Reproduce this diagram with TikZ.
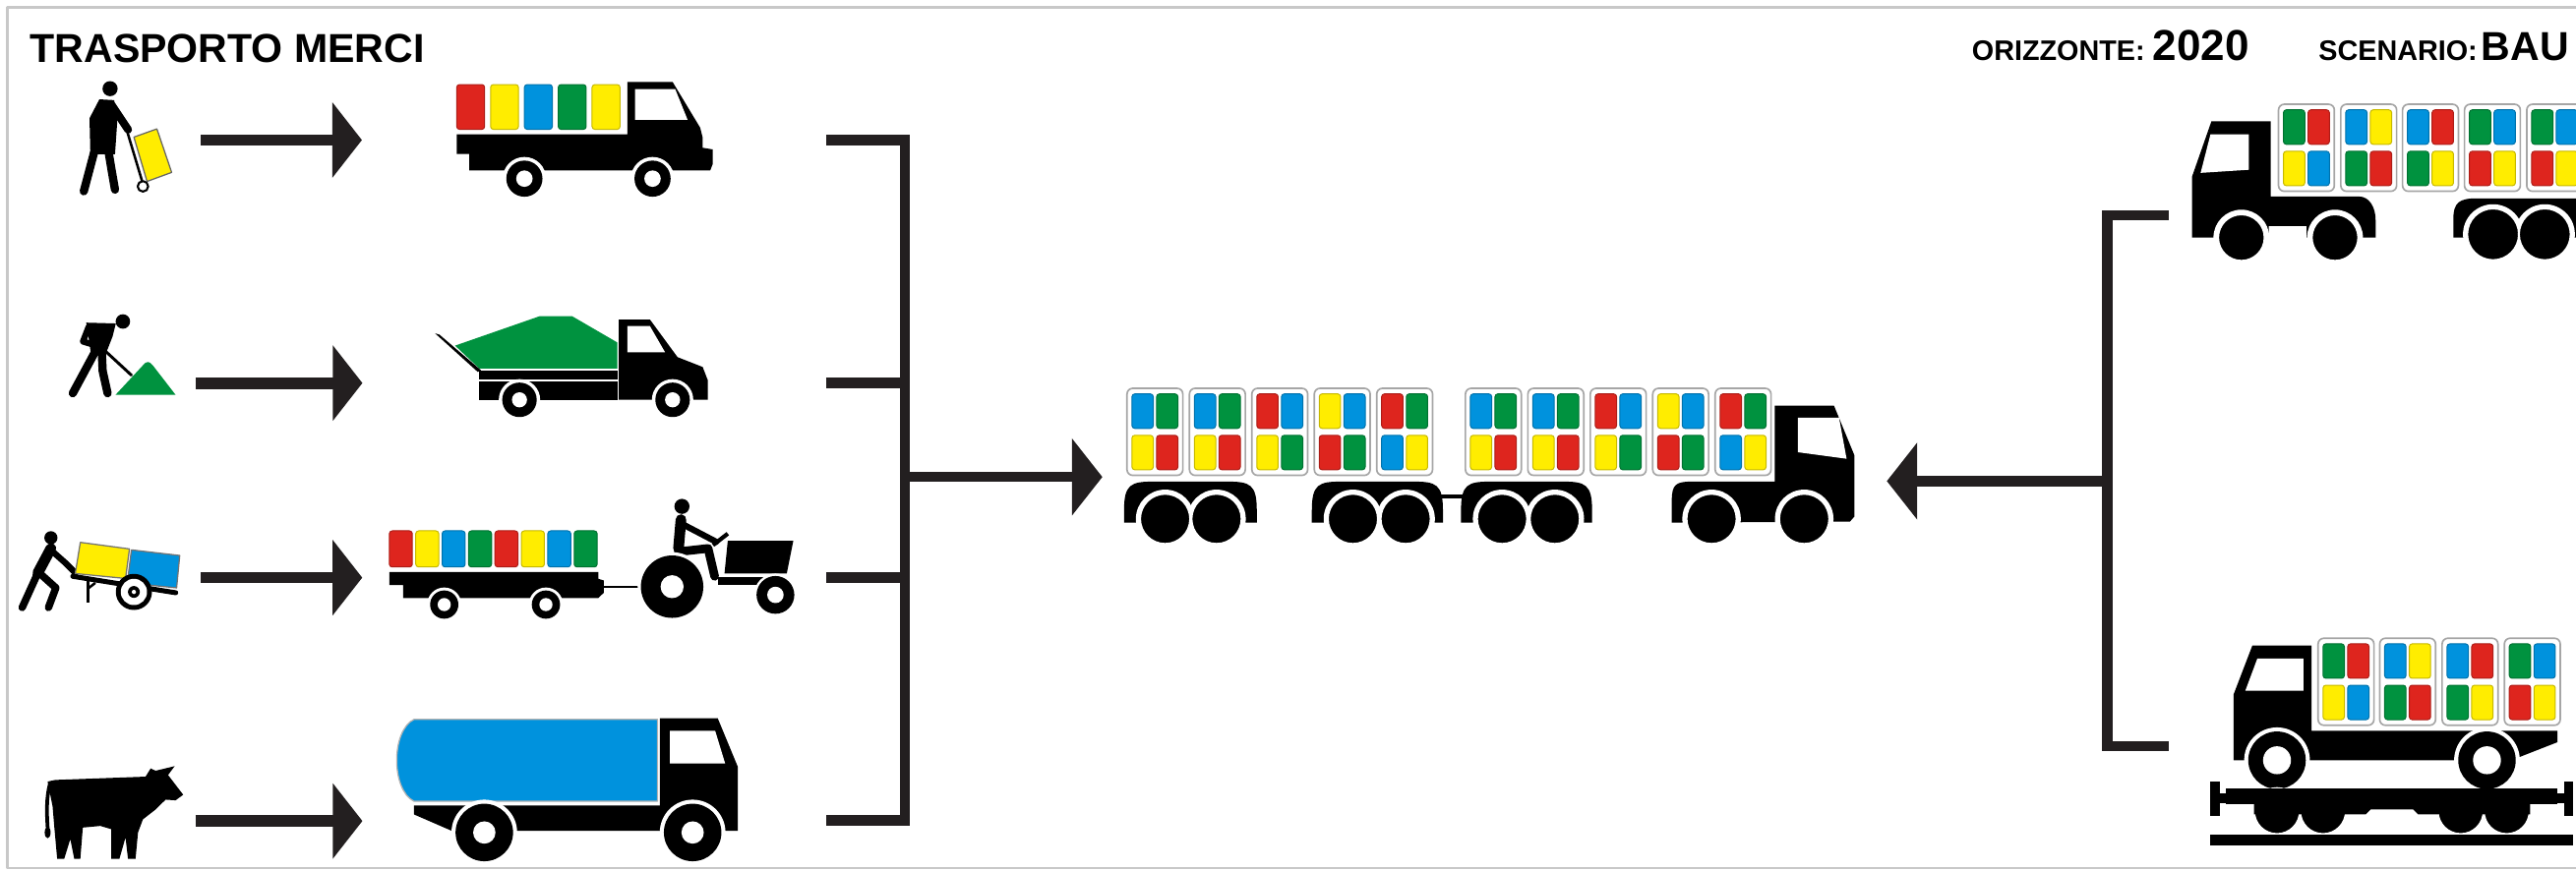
\documentclass[tikz,border=0pt]{standalone}
\usepackage{fontspec}
\setmainfont{Liberation Sans}
\usetikzlibrary{arrows.meta}
\definecolor{tred}{RGB}{222,37,30}
\definecolor{tyel}{RGB}{255,237,0}
\definecolor{tblu}{RGB}{0,146,221}
\definecolor{tgrn}{RGB}{0,146,63}
\definecolor{ink}{RGB}{35,31,32}
\definecolor{frame}{RGB}{200,200,200}

% one coloured load unit: x y width height colour
\newcommand{\ctile}[5]{%
  \filldraw[fill=#5, draw=#5!78!black, line width=0.12mm, rounded corners=0.35mm]
    (#1,#2) rectangle ++(#3,#4);}
% a container of four load units: x y  top-left top-right bottom-left bottom-right
\newcommand{\cgrp}[6]{%
  \filldraw[fill=white, draw=black!35, line width=0.2mm, rounded corners=0.7mm]
    (#1,#2) rectangle ++(34,53);
  \ctile{#1+3}{#2+3.4}{13}{21}{#3}
  \ctile{#1+18}{#2+3.4}{13}{21}{#4}
  \ctile{#1+3}{#2+28.6}{13}{21}{#5}
  \ctile{#1+18}{#2+28.6}{13}{21}{#6}}
% white gap cut around a wheel
\newcommand{\carve}[3]{\fill[white] (#1,#2) circle[radius=#3];}
% wheel with hub: x y outer inner
\newcommand{\whl}[4]{%
  \fill[black] (#1,#2) circle[radius=#3];
  \fill[white] (#1,#2) circle[radius=#4];}
% solid tyre with a thin white rim
\newcommand{\tyre}[3]{\filldraw[fill=black, draw=white, line width=0.25mm] (#1,#2) circle[radius=#3];}

\tikzset{
  rowarrow/.style={draw=ink, line width=1.4mm, -{Triangle[length=3.6mm,width=9mm]}},
  busarrow/.style={draw=ink, line width=1.25mm, -{Triangle[length=3.7mm,width=9.2mm]}},
  bus/.style={draw=ink, line width=1.25mm, line join=miter, line cap=butt},
  limb/.style={draw=black, line cap=round, line join=round},
  titletext/.style={font=\bfseries\fontsize{14}{16}\selectfont, inner sep=0pt, anchor=base west},
  headtext/.style={font=\bfseries\fontsize{9.8}{11}\selectfont, inner sep=0pt, anchor=base west},
}

\begin{document}
\begin{tikzpicture}[x=0.2mm, y=-0.2mm, line join=round]
\path[use as bounding box] (0,0) rectangle (1568,530.4);
\clip (0,0) rectangle (1568,530.4);
\fill[white] (0,0) rectangle (1568,530.4);
\draw[frame, line width=0.25mm] (1568,4.5) -- (4.5,4.5) -- (4.5,528.5) -- (1568,528.5);

% ---------- headings ----------
\node[titletext] (title) at (18,38) {TRASPORTO MERCI};
\node[headtext] (horizon) at (1200,37) {ORIZZONTE: {\fontsize{15}{17}\selectfont 2020}};
\node[headtext] (scenario) at (1411,37) {SCENARIO:\hspace{0.5mm}{\fontsize{14}{16}\selectfont BAU}};

% ---------- row 1: porter with hand truck ----------
\fill[black] (67,54) circle[radius=4.6];
\fill[black] (60.5,60.5) -- (69.5,61) -- (71.5,72) -- (70,94) -- (55,94) -- (54.5,72) -- cycle;
\draw[limb, line width=0.95mm] (68,64) -- (78,79);
\draw[limb, line width=1mm] (57.5,92) -- (51,116.5);
\draw[limb, line width=1mm] (66,92) -- (68,104) -- (70,115.5);
\draw[black, line width=0.3mm, line cap=round] (76.5,77) -- (87,112);
\filldraw[fill=tyel, draw=black!60, line width=0.15mm] (81.5,83.5) -- (95.5,78.5) -- (104.5,105) -- (89.5,110.5) -- cycle;
\filldraw[fill=white, draw=black, line width=0.25mm] (87,113.5) circle[radius=3.2];

% row 1: light lorry
\ctile{278}{51.5}{17}{27.3}{tred}
\ctile{298.6}{51.5}{17}{27.3}{tyel}
\ctile{319.2}{51.5}{17}{27.3}{tblu}
\ctile{339.8}{51.5}{17}{27.3}{tgrn}
\ctile{360.4}{51.5}{17}{27.3}{tyel}
\fill[black] (278,81.8) -- (381.9,81.8) -- (381.9,49.9) -- (409.4,49.9) -- (426.2,77.8) -- (427.7,83.8)
  -- (427.7,90) -- (433.8,91) -- (433.8,100) -- (432.3,103.8) -- (285.6,103.8) -- (285.6,93.8) -- (278,93.8) -- cycle;
\fill[white] (386.5,54.3) -- (411,54.3) -- (418.5,72.9) -- (386.5,72.9) -- cycle;
\carve{319.2}{108.8}{13.2}\carve{397.2}{108.8}{13.2}
\whl{319.2}{108.8}{11}{5}\whl{397.2}{108.8}{11}{5}

% ---------- row 2: digger and tipper ----------
\fill[black] (74.8,195.8) circle[radius=4.4];
\fill[black] (52.5,196.5) -- (70.5,197) -- (68.5,205) -- (64,216.5) -- (55.5,216.5) -- (54,206) -- cycle;
\draw[limb, line width=0.75mm] (54,199) -- (50.5,208) -- (55.5,209.5);
\draw[limb, line width=0.75mm] (66.5,202) -- (63,212);
\draw[limb, line width=0.35mm] (60,210) -- (80,228.5);
\draw[limb, line width=1mm] (57.5,215) -- (44.3,239.5);
\draw[limb, line width=1mm] (62,215) -- (62.5,226) -- (65.5,239.5);
\fill[tgrn] (70.3,240.5) -- (87,222.5) .. controls (89,219.8) and (91,219.8) .. (93,222.5) -- (106.9,240.5) -- cycle;

\fill[tgrn] (277,210.5) -- (328.4,192.6) -- (348.3,192.6) -- (375.8,208.6) -- (375.8,224.5) -- (291.8,224.5) -- cycle;
\fill[black] (264.8,203) -- (267.5,203.8) -- (292.8,225.5) -- (290.8,226.5) -- cycle;
\fill[black] (291.8,225.5) rectangle (375.8,231.3);
\fill[black] (291.8,232.3) rectangle (375.8,243.5);
\fill[black] (376.6,194.6) -- (395.6,194.6) -- (412.4,217.5) -- (427.7,223.5) -- (430.8,231.5) -- (430.8,243.5) -- (376.6,243.5) -- cycle;
\fill[white] (381.9,198.6) -- (395.6,198.6) -- (404.8,214.5) -- (381.9,214.5) -- cycle;
\carve{316.2}{243.5}{12.6}\carve{409.4}{243.5}{12.6}
\whl{316.2}{243.5}{10.5}{4.6}\whl{409.4}{243.5}{10.5}{4.6}

% ---------- row 3: hand cart, trailer and tractor ----------
\fill[black] (31,327.5) circle[radius=4];
\draw[limb, line width=1.3mm] (31,334) -- (23,349);
\draw[limb, line width=0.75mm] (31,335) -- (40,343) -- (46,349);
\draw[limb, line width=0.9mm] (23,349) -- (13.5,370);
\draw[limb, line width=0.9mm] (24,349) -- (34,358) -- (29.5,370);
\filldraw[fill=tyel, draw=black!55, line width=0.15mm] (48.9,330.3) -- (78.8,334.3) -- (76.4,352.3) -- (45.8,349.3) -- cycle;
\filldraw[fill=tblu, draw=black!55, line width=0.15mm] (80,334.9) -- (109.4,338.3) -- (107.5,358) -- (77.5,355) -- cycle;
\draw[black, line width=0.6mm, line cap=round] (44.3,351) -- (107,361);
\draw[black, line width=0.4mm] (53.5,353) -- (53.5,367);
\draw[black, line width=0.3mm] (53.5,358.5) -- (58,355);
\fill[black] (81.5,360.5) circle[radius=11];
\fill[white] (81.5,360.5) circle[radius=8];
\fill[black] (81.5,360.5) circle[radius=3.6];
\fill[white] (81.5,360.5) circle[radius=1.3];

\foreach \c [count=\i from 0] in {tred,tyel,tblu,tgrn,tred,tyel,tblu,tgrn}
  {\ctile{237+\i*16.07}{323.3}{14}{22}{\c}}
\draw[black, line width=0.25mm] (366,357.7) -- (400,357.7);
\fill[black] (237,348.3) -- (364.2,348.3) -- (364.2,352.5) -- (367.5,353.5) -- (367.5,361) -- (364.2,364.2)
  -- (245.4,364.2) -- (245.4,356.3) -- (237,356.3) -- cycle;
\carve{270.4}{368.2}{10.4}\carve{332.3}{368.2}{10.4}
\whl{270.4}{368.2}{8.6}{4}\whl{332.3}{368.2}{8.6}{4}

\fill[black] (415.1,308.4) circle[radius=4.6];
\draw[limb, line width=1.3mm] (414.5,316.5) -- (413,334);
\draw[limb, line width=0.75mm] (415,319) -- (436,330);
\draw[limb, line width=1.05mm] (413,336) -- (431,334) -- (435,351);
\draw[black, line width=0.5mm] (434,332) -- (443,325);
\fill[black] (443,329.3) -- (482.9,329.3) -- (478.9,349.3) -- (441,349.3) -- cycle;
\fill[black] (437,351.3) rectangle (478,356.3);
\carve{409.1}{357.3}{21}\carve{472}{362.3}{13}
\whl{409.1}{357.3}{19}{7}\whl{472}{362.3}{11.5}{5}

% ---------- row 4: cow and milk tanker ----------
\fill[black] (29,476) -- (33.6,475) -- (88.6,473) -- (91.7,468) -- (94.7,469.4) -- (106.3,466.6) -- (102.3,472)
  -- (111.5,484) -- (106.9,487.4) -- (100.8,487) -- (94.7,493) -- (87,499) -- (84,507) -- (82.5,523) -- (77.9,523)
  -- (76.4,510) -- (72.7,523) -- (67.8,523) -- (67.8,505) -- (61.1,503) -- (50.4,504) -- (48.9,523) -- (45.2,523)
  -- (42.8,511) -- (39.1,523) -- (34.8,523) -- (33,503) -- (32,491) -- cycle;
\draw[black, line width=0.45mm, line cap=round] (30.5,477) .. controls (28,486) and (28.5,496) .. (29,504);
\fill[black] (29,507) ellipse[x radius=1.8, y radius=3.5];

\filldraw[fill=tblu, draw=black!30, line width=0.15mm] (252,438.1) -- (400.2,438.1) -- (400.2,488) -- (252,488)
  .. controls (238,481) and (238,445) .. (252,438.1) -- cycle;
\fill[black] (252,490.5) -- (401.7,490.5) -- (401.7,506) -- (275,506) -- (252,496) -- cycle;
\fill[black] (401.7,437.5) -- (436.9,437.5) -- (449.1,467) -- (449.1,506) -- (401.7,506) -- cycle;
\fill[white] (407.8,445) -- (435.3,445) -- (441.4,465) -- (407.8,465) -- cycle;
\carve{294.8}{507}{20}\carve{421.6}{507}{20}
\whl{294.8}{507}{17.5}{6.8}\whl{421.6}{507}{17.5}{6.8}

% ---------- row arrows ----------
\coordinate (a1s) at (122.2,85.3);  \coordinate (a1e) at (220.3,85.3);
\coordinate (a2s) at (119.1,233.3); \coordinate (a2e) at (220.6,233.3);
\coordinate (a3s) at (122.2,351.8); \coordinate (a3e) at (220.5,351.8);
\coordinate (a4s) at (119.1,500);   \coordinate (a4e) at (220.6,500);
\draw[rowarrow] (a1s) -- (a1e);
\draw[rowarrow] (a2s) -- (a2e);
\draw[rowarrow] (a3s) -- (a3e);
\draw[rowarrow] (a4s) -- (a4e);

% ---------- left collector ----------
\coordinate (l1) at (502.9,85.3);  \coordinate (k1) at (550.8,85.3);
\coordinate (l2) at (502.9,233.3); \coordinate (k2) at (550.8,233.3);
\coordinate (l3) at (502.9,351.8); \coordinate (k3) at (550.8,351.8);
\coordinate (l4) at (502.9,499.5); \coordinate (k4) at (550.8,499.5);
\coordinate (km) at (550.8,290.5); \coordinate (kt) at (671,290.5);
\draw[bus] (l1) -- (k1) -- (k4) -- (l4);
\draw[bus] (l2) -- (k2);
\draw[bus] (l3) -- (k3);
\draw[busarrow] (km) -- (kt);

% ---------- right collector ----------
\coordinate (r1) at (1320,131);   \coordinate (q1) at (1282.7,131);
\coordinate (r2) at (1320,454.5); \coordinate (q2) at (1282.7,454.5);
\coordinate (qm) at (1282.7,293); \coordinate (qt) at (1148.5,293);
\draw[bus] (r1) -- (q1) -- (q2) -- (r2);
\draw[busarrow] (qm) -- (qt);

% ---------- road train ----------
\cgrp{686}{236.5}{tblu}{tgrn}{tyel}{tred}
\cgrp{724}{236.5}{tblu}{tgrn}{tyel}{tred}
\cgrp{762}{236.5}{tred}{tblu}{tyel}{tgrn}
\cgrp{800}{236.5}{tyel}{tblu}{tred}{tgrn}
\cgrp{838}{236.5}{tred}{tgrn}{tblu}{tyel}
\cgrp{892}{236.5}{tblu}{tgrn}{tyel}{tred}
\cgrp{930}{236.5}{tblu}{tgrn}{tyel}{tred}
\cgrp{968}{236.5}{tred}{tblu}{tyel}{tgrn}
\cgrp{1006}{236.5}{tyel}{tblu}{tred}{tgrn}
\cgrp{1044}{236.5}{tred}{tgrn}{tblu}{tyel}
\draw[black, line width=0.5mm] (870,302.3) -- (897,302.3);
\foreach \xa/\xb in {684.2/765, 798.5/878.3, 889.3/969.1}{
  \fill[black] (\xa,318.3) -- (\xa,311) .. controls (\xa,295) and (\xa+4,293.3) .. (\xa+18,293.3)
    -- (\xb-18,293.3) .. controls (\xb-4,293.3) and (\xb,295) .. (\xb,311) -- (\xb,318.3) -- cycle;}
\foreach \w in {709.2,740.5,823.5,855.6,914.3,946.4}{\carve{\w}{316}{17.8}}
\foreach \w in {709.2,740.5,823.5,855.6,914.3,946.4}{\tyre{\w}{316}{15.3}}
\fill[black] (1017.6,318.3) -- (1017.6,305) .. controls (1017.6,295) and (1020,293.3) .. (1030,293.3)
  -- (1080.3,293.3) -- (1080.3,247) -- (1116.3,247) -- (1128.8,277.4) -- (1128.8,314.5) -- (1126,317.7) -- cycle;
\fill[white] (1094.3,254.4) -- (1119.4,254.4) -- (1124,279.4) -- (1094.3,275.4) -- cycle;
\carve{1041.8}{316}{17.8}\carve{1098.2}{316}{17.8}
\tyre{1041.8}{316}{15.3}\tyre{1098.2}{316}{15.3}

% ---------- articulated lorry (top right) ----------
\cgrp{1386.9}{63.5}{tgrn}{tred}{tyel}{tblu}
\cgrp{1424.8}{63.5}{tblu}{tyel}{tgrn}{tred}
\cgrp{1462.4}{63.5}{tblu}{tred}{tgrn}{tyel}
\cgrp{1500.1}{63.5}{tgrn}{tblu}{tred}{tyel}
\cgrp{1538}{63.5}{tgrn}{tblu}{tred}{tyel}
\fill[black] (1334.2,144.7) -- (1334.2,107.8) -- (1346.1,73.8) -- (1382.2,73.8) -- (1382.2,119.7) -- (1436,119.7)
  .. controls (1442,119.7) and (1446,126) .. (1446,134) -- (1446,144.7) -- (1404,144.7) -- (1404,137.7)
  -- (1381,137.7) -- (1381,144.7) -- cycle;
\fill[white] (1345.5,81.8) -- (1368.8,81.8) -- (1368.8,103.4) -- (1339.5,105.3) -- cycle;
\carve{1364.3}{144.7}{17}\carve{1421.3}{144.7}{17}
\tyre{1364.3}{144.7}{14.2}\tyre{1421.3}{144.7}{14.2}
\fill[black] (1493.3,144.7) -- (1493.3,134) .. controls (1493.3,123) and (1497,120.8) .. (1508,120.8)
  -- (1600,120.8) -- (1600,144.7) -- cycle;
\carve{1517.5}{142.7}{18.3}\carve{1549}{142.7}{18.3}
\tyre{1517.5}{142.7}{15.8}\tyre{1549}{142.7}{15.8}

% ---------- lorry on rail wagon (bottom right) ----------
\cgrp{1411}{388.7}{tgrn}{tred}{tyel}{tblu}
\cgrp{1448.5}{388.7}{tblu}{tyel}{tgrn}{tred}
\cgrp{1486.5}{388.7}{tblu}{tred}{tgrn}{tyel}
\cgrp{1524.4}{388.7}{tgrn}{tblu}{tred}{tyel}
\fill[black] (1359.5,463) -- (1359.5,423.1) -- (1371,393.1) -- (1407,393.1) -- (1407,445) -- (1556.7,445)
  -- (1556.7,452) -- (1533.7,461) -- (1533.7,463) -- cycle;
\fill[white] (1374,401.1) -- (1402,401.1) -- (1402,420.7) -- (1366.7,420.7) -- cycle;
\carve{1386}{463}{20}\carve{1513.8}{463}{20}
\whl{1386}{463}{17.5}{8.5}\whl{1513.8}{463}{17.5}{8.5}
\foreach \w in {1386,1414,1497.8,1525.8}{\tyre{\w}{494}{14}}
\fill[black] (1355,480) rectangle (1556.7,490);
\fill[black] (1372,489.5) -- (1540,489.5) -- (1540,496) -- (1472,496) -- (1469,493) -- (1443,493) -- (1440,496)
  -- (1372,496) -- cycle;
\fill[black] (1345,476) rectangle (1351,497);
\fill[black] (1351,483) rectangle (1355.5,489);
\fill[black] (1560.5,476) rectangle (1566.3,497);
\fill[black] (1556,483) rectangle (1560.5,489);
\fill[black] (1345,508) rectangle (1566.3,515);
\end{tikzpicture}
\end{document}
